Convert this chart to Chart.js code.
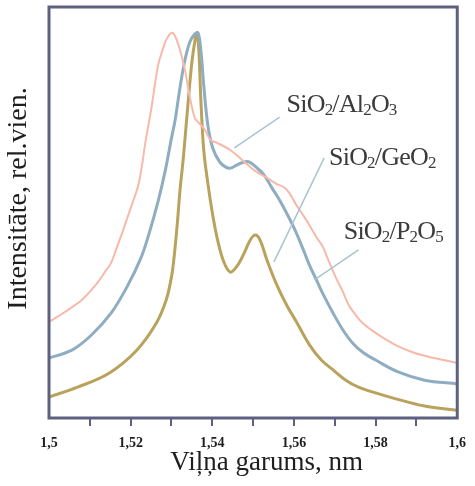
<!DOCTYPE html>
<html>
<head>
<meta charset="utf-8">
<script src="https://cdn.jsdelivr.net/npm/chart.js@4.4.1/dist/chart.umd.min.js"></script>
<style>
  html, body { margin: 0; padding: 0; background: #fff; }
  #wrap { width: 475px; height: 486px; }
</style>
</head>
<body>
<div id="wrap"><canvas id="spectrum" width="475" height="486"></canvas></div>
<script>
// wavelength (x) / relative intensity (y) pairs for each glass
let al2o3X = [1.5000, 1.5007, 1.5039, 1.5080, 1.5118, 1.5140, 1.5152, 1.5164, 1.5179, 1.5196, 1.5220, 1.5237, 1.5251, 1.5261, 1.5268, 1.5278, 1.5287, 1.5300, 1.5309, 1.5321, 1.5333, 1.5345, 1.5357, 1.5365, 1.5382, 1.5396, 1.5413, 1.5444, 1.5473, 1.5502, 1.5534, 1.5558, 1.5575, 1.5589, 1.5606, 1.5630, 1.5655, 1.5671, 1.5686, 1.5703, 1.5720, 1.5734, 1.5751, 1.5768, 1.5800, 1.5848, 1.5896, 1.5944, 1.6000];
let al2o3Y = [23.4, 23.8, 25.8, 28.7, 32.8, 36.0, 37.7, 40.9, 45.0, 49.9, 57.2, 67.6, 75.5, 82.2, 86.1, 89.5, 92.0, 93.7, 92.9, 89.5, 84.7, 78.1, 73.0, 72.0, 70.1, 67.6, 66.9, 65.2, 62.8, 60.3, 58.4, 56.9, 56.2, 54.7, 51.8, 48.2, 44.0, 41.6, 38.0, 34.1, 30.7, 27.5, 25.1, 23.1, 20.7, 17.8, 15.8, 14.6, 13.4];

let geo2X = [1.5000, 1.5056, 1.5104, 1.5152, 1.5191, 1.5225, 1.5244, 1.5268, 1.5285, 1.5300, 1.5309, 1.5321, 1.5333, 1.5345, 1.5357, 1.5365, 1.5372, 1.5379, 1.5389, 1.5401, 1.5418, 1.5432, 1.5444, 1.5461, 1.5478, 1.5490, 1.5510, 1.5527, 1.5546, 1.5565, 1.5587, 1.5606, 1.5623, 1.5638, 1.5655, 1.5671, 1.5696, 1.5720, 1.5744, 1.5771, 1.5800, 1.5855, 1.5920, 1.6000];
let geo2Y = [14.6, 16.5, 20.2, 25.5, 31.9, 38.9, 44.5, 53.0, 60.3, 68.1, 72.5, 80.5, 87.1, 91.5, 93.4, 93.7, 89.5, 81.0, 71.3, 65.7, 62.3, 61.1, 60.8, 61.6, 62.3, 62.3, 60.8, 59.1, 56.0, 53.0, 48.9, 45.0, 40.9, 37.2, 33.6, 30.2, 25.5, 21.4, 18.2, 15.8, 14.1, 11.2, 9.2, 8.3];

let p2o5X = [1.5000, 1.5070, 1.5147, 1.5215, 1.5263, 1.5287, 1.5300, 1.5307, 1.5314, 1.5321, 1.5329, 1.5336, 1.5343, 1.5350, 1.5357, 1.5362, 1.5367, 1.5372, 1.5379, 1.5389, 1.5401, 1.5413, 1.5428, 1.5444, 1.5461, 1.5478, 1.5493, 1.5505, 1.5517, 1.5534, 1.5558, 1.5582, 1.5606, 1.5638, 1.5667, 1.5696, 1.5727, 1.5758, 1.5800, 1.5841, 1.5920, 1.6000];
let p2o5Y = [5.1, 7.5, 10.9, 16.5, 23.1, 28.7, 34.3, 39.7, 47.0, 55.5, 63.3, 71.3, 79.3, 86.6, 91.5, 93.7, 89.5, 77.4, 65.2, 57.2, 49.4, 43.3, 38.0, 35.5, 37.0, 40.1, 43.3, 44.5, 43.3, 38.4, 32.4, 27.5, 23.4, 17.8, 14.1, 11.7, 9.2, 7.5, 6.1, 4.9, 2.9, 1.9];

// curve labels: text, text anchor (x,y), leader line start and end
let labelNames = ['SiO2/Al2O3', 'SiO2/GeO2', 'SiO2/P2O5'];
let labelAt = [[1.5582, 76.2], [1.5686, 63.3], [1.5722, 45.3]];
let leaderFrom = [[1.5565, 73.2], [1.5674, 63.3], [1.5758, 40.9]];
let leaderTo = [[1.5454, 65.7], [1.5551, 38.0], [1.5650, 33.6]];

function pts(xs, ys) {
  return xs.map((x, i) => ({ x: x, y: ys[i] }));
}

// box round the plot area
const framePlugin = {
  id: 'frame',
  afterDraw(chart) {
    const { ctx, chartArea: a } = chart;
    ctx.save();
    ctx.strokeStyle = '#5d6080';
    ctx.lineWidth = 3;
    ctx.strokeRect(a.left, a.top, a.right - a.left, a.bottom - a.top);
    ctx.restore();
  }
};

// leader lines and labels, digits set as subscripts
const labelPlugin = {
  id: 'curveLabels',
  afterDatasetsDraw(chart) {
    const { ctx, scales: { x, y } } = chart;
    ctx.save();
    ctx.strokeStyle = '#a9c4d1';
    ctx.lineWidth = 1.5;
    leaderFrom.forEach((p, i) => {
      ctx.beginPath();
      ctx.moveTo(x.getPixelForValue(p[0]), y.getPixelForValue(p[1]));
      ctx.lineTo(x.getPixelForValue(leaderTo[i][0]), y.getPixelForValue(leaderTo[i][1]));
      ctx.stroke();
    });
    ctx.fillStyle = '#3b3b3b';
    ctx.textBaseline = 'middle';
    labelNames.forEach((txt, i) => {
      let px = x.getPixelForValue(labelAt[i][0]);
      const py = y.getPixelForValue(labelAt[i][1]);
      for (const ch of txt) {
        const sub = /\d/.test(ch);
        ctx.font = sub ? '17px "Liberation Serif"' : '26px "Liberation Serif"';
        ctx.fillText(ch, px, sub ? py + 6 : py);
        px += ctx.measureText(ch).width - 0.8;
      }
    });
    ctx.restore();
  }
};

new Chart('spectrum', {
  type: 'line',
  data: {
    datasets: [
      { label: 'SiO2/Al2O3', data: pts(al2o3X, al2o3Y), borderColor: '#f6b9aa', borderWidth: 2 },
      { label: 'SiO2/GeO2', data: pts(geo2X, geo2Y), borderColor: '#8eadc0', borderWidth: 3 },
      { label: 'SiO2/P2O5', data: pts(p2o5X, p2o5Y), borderColor: '#b8a25c', borderWidth: 3 }
    ]
  },
  options: {
    responsive: false,
    animation: false,
    layout: { padding: { left: 0, right: 12, top: 7, bottom: 0 } },
    elements: {
      point: { radius: 0 },
      line: { tension: 0.35, fill: false }
    },
    plugins: { legend: { display: false }, tooltip: { enabled: false } },
    scales: {
      x: {
        type: 'linear',
        min: 1.5,
        max: 1.6,
        afterFit(s) { s.height = 68; },
        border: { display: false },
        grid: {
          drawOnChartArea: false,
          tickLength: 8,
          lineWidth: 2,
          tickColor: c => (c.index === 0 || c.index === 10) ? 'rgba(0,0,0,0)' : '#5d6080'
        },
        ticks: {
          stepSize: 0.01,
          autoSkip: false,
          maxRotation: 0,
          padding: 9,
          color: '#1e1e1e',
          font: { family: 'Liberation Serif', size: 14, weight: 'bold' },
          callback: v => {
            const n = Math.round(v * 100);
            return n % 2 ? '' : String(n / 100).replace('.', ',');
          }
        },
        title: {
          display: true,
          text: '\u00a0\u00a0\u00a0\u00a0Viļņa garums, nm',
          color: '#1e1e1e',
          font: { family: 'Liberation Serif', size: 27 },
          padding: { top: 0, bottom: 7 }
        }
      },
      y: {
        min: 0,
        max: 100,
        afterFit(s) { s.width = 49; },
        border: { display: false },
        grid: { display: false },
        ticks: { display: false },
        title: {
          display: true,
          text: '\u00a0\u00a0\u00a0\u00a0Intensitāte, rel.vien.',
          color: '#1e1e1e',
          font: { family: 'Liberation Serif', size: 28 },
          padding: { top: 2, bottom: 0 }
        }
      }
    }
  },
  plugins: [framePlugin, labelPlugin]
});
</script>
</body>
</html>
